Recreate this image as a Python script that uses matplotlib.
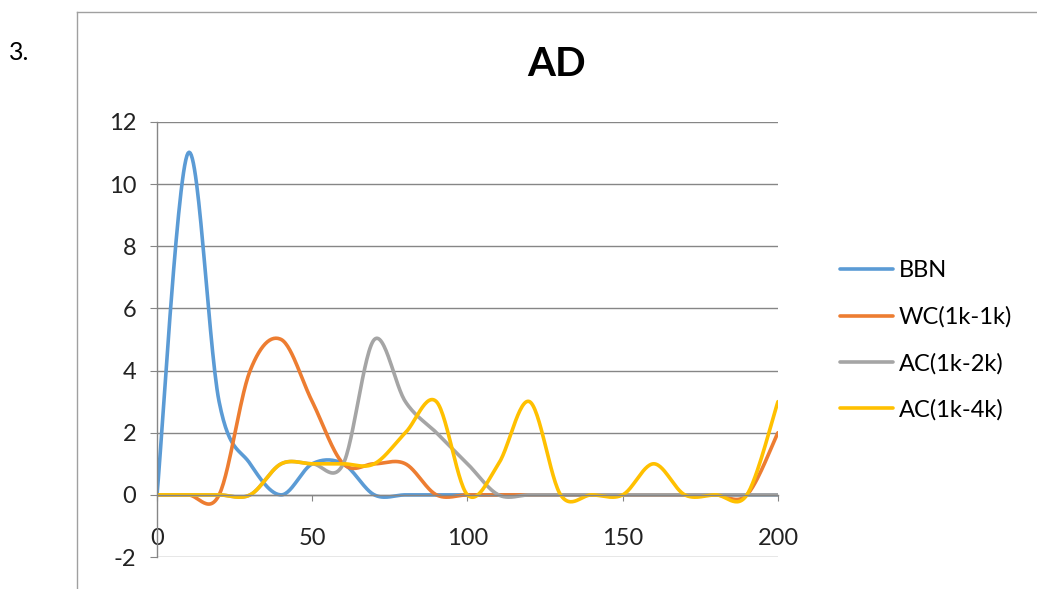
import numpy as np
import matplotlib
matplotlib.use('Agg')
import matplotlib.pyplot as plt
from matplotlib.lines import Line2D

plt.rcParams['font.family'] = ['Lato', 'DejaVu Sans']
plt.rcParams['axes.unicode_minus'] = False

x_vals = [0, 10, 20, 30, 40, 50, 60, 70, 80, 90, 100, 110, 120, 130, 140, 150, 160, 170, 180, 190, 200]
bbn = [0, 11, 3, 1, 0, 1, 1, 0, 0, 0, 0, 0, 0, 0, 0, 0, 0, 0, 0, 0, 0]
wc_1k_1k = [0, 0, 0, 4, 5, 3, 1, 1, 1, 0, 0, 0, 0, 0, 0, 0, 0, 0, 0, 0, 2]
ac_1k_2k = [0, 0, 0, 0, 1, 1, 1, 5, 3, 2, 1, 0, 0, 0, 0, 0, 0, 0, 0, 0, 0]
ac_1k_4k = [0, 0, 0, 0, 1, 1, 1, 1, 2, 3, 0, 1, 3, 0, 0, 0, 1, 0, 0, 0, 3]

labels = ['BBN', 'WC(1k-1k)', 'AC(1k-2k)', 'AC(1k-4k)']
colors = ['#5B9BD5', '#ED7D31', '#A5A5A5', '#FFC000']
x_ticks = [0, 50, 100, 150, 200]
y_ticks = [-2, 0, 2, 4, 6, 8, 10, 12]


def smooth(xs, ys, n=30):
    # Excel-style smoothed line (Catmull-Rom through the points as Bezier)
    p = np.column_stack([xs, ys]).astype(float)
    p = np.vstack([p[0], p, p[-1]])
    t = np.linspace(0, 1, n)[:, None]
    out = []
    for i in range(1, len(p) - 2):
        p0, p1, p2, p3 = p[i - 1], p[i], p[i + 1], p[i + 2]
        b1 = p1 + (p2 - p0) / 6
        b2 = p2 - (p3 - p1) / 6
        seg = (1 - t) ** 3 * p1 + 3 * (1 - t) ** 2 * t * b1 + 3 * (1 - t) * t ** 2 * b2 + t ** 3 * p2
        out.append(seg)
    out = np.vstack(out)
    return out[:, 0], out[:, 1]


fig = plt.figure(figsize=(10.37, 5.89), dpi=100)
ax = fig.add_axes([0.1514, 0.0543, 0.5988, 0.7386])

for ys, lab, col in zip([bbn, wc_1k_1k, ac_1k_2k, ac_1k_4k], labels, colors):
    sx, sy = smooth(x_vals, ys)
    ax.plot(sx, sy, color=col, linewidth=2.6, label=lab, solid_capstyle='round')

ax.set_xlim(0, 200)
ax.set_ylim(-2, 12)
ax.set_xticks(x_ticks)
ax.set_yticks(y_ticks)
ax.grid(True, axis='y', color='#868686', linewidth=1)
ax.set_axisbelow(True)

ax.spines['top'].set_visible(False)
ax.spines['right'].set_visible(False)
ax.spines['bottom'].set_position(('data', 0))
for s in ['left', 'bottom']:
    ax.spines[s].set_color('#868686')
    ax.spines[s].set_linewidth(1)

ax.tick_params(axis='x', direction='out', length=4, color='#868686', pad=20, labelsize=17, labelcolor='#222222')
ax.tick_params(axis='y', direction='out', length=5, color='#868686', pad=10, labelsize=17, labelcolor='#222222')

# title is centred on the whole chart frame, not the plot area
fig.text(557 / 1037, 1 - 65 / 589, 'AD', fontsize=29, fontweight='bold', ha='center', va='center')

fig.legend(loc='center left', bbox_to_anchor=(0.81, 0.422), frameon=False, fontsize=17,
           handlelength=2.25, handletextpad=0.25, labelspacing=1.05, borderpad=0, borderaxespad=0)

# chart frame and item number
fig.add_artist(Line2D([77 / 1037, 77 / 1037], [0, 1 - 12 / 589], color='#A0A0A0', linewidth=1))
fig.add_artist(Line2D([77 / 1037, 1], [1 - 12 / 589, 1 - 12 / 589], color='#A0A0A0', linewidth=1))
fig.text(0.009, 1 - 52 / 589, '3.', fontsize=18, va='center', ha='left')

plt.savefig('out.png', dpi=100)
